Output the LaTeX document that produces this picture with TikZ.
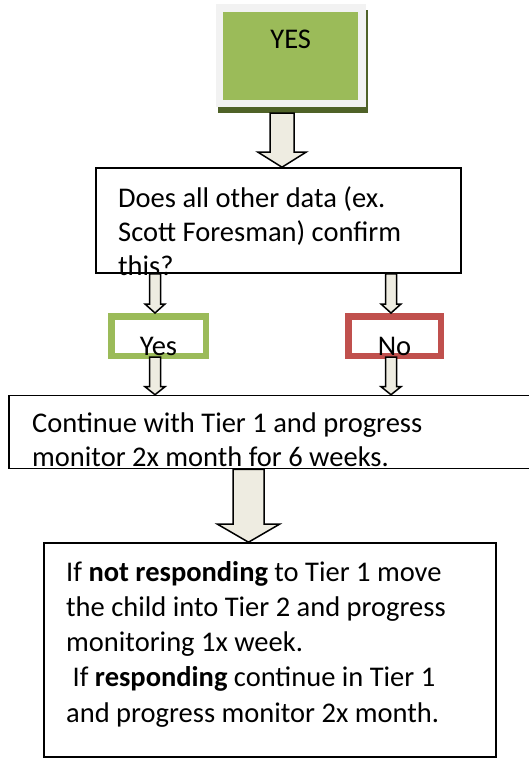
\documentclass[tikz,border=0pt]{standalone}
\usepackage{fontspec}
\setmainfont{Carlito}
\usepackage{xcolor}
\usepackage{tikz}
\usetikzlibrary{calc}
\usetikzlibrary{shadows}

\definecolor{yesgreen}{HTML}{9BBB59}
\definecolor{shadowgreen}{HTML}{4F6228}
\definecolor{framegray}{HTML}{F2F2F2}
\definecolor{nored}{HTML}{C0504D}
\definecolor{arrowbeige}{HTML}{EEECE1}

\tikzset{
	startbox/.style={rectangle, fill=yesgreen, draw=framegray, line width=7.5pt,
		minimum width=142.5pt, minimum height=95.5pt, inner sep=0pt,
		font=\fontsize{28.5}{34}\selectfont, text height=0pt, text depth=15.5pt,
		drop shadow={shadow xshift=2.25pt, shadow yshift=-5.75pt, fill=shadowgreen,
			draw=shadowgreen, line width=7.5pt, opacity=1}},
	answerbox/.style={rectangle, line width=6.5pt, minimum height=39.5pt, inner sep=0pt,
		font=\fontsize{28.5}{34}\selectfont, text height=39pt, text depth=0pt},
	plainbox/.style={rectangle, draw=black, line width=1.6pt, inner sep=0pt},
	boxtext/.style={anchor=base west, align=left, inner sep=0pt},
	arrowbody/.style={draw=black, fill=arrowbeige, line width=1.5pt, line join=miter},
}

% #1 x of the arrow, #2 start, #3 tip, #4 half shaft, #5 half head, #6 head length
\newcommand{\blockarrow}[6]{%
	\draw[arrowbody] let \p1=(#2), \p2=(#3) in
		(#1pt-#4pt,\y1) -- (#1pt+#4pt,\y1) -- (#1pt+#4pt,\y2+#6pt) -- (#1pt+#5pt,\y2+#6pt)
		-- (#1pt,\y2) -- (#1pt-#5pt,\y2+#6pt) -- (#1pt-#4pt,\y2+#6pt) -- cycle;
}

\begin{document}
\begin{tikzpicture}[x=1pt,y=-1pt]
	\useasboundingbox (0,0) rectangle (529,758);
	
	\node[startbox] (yesstart) at (290.75,55.75) {YES};
	
	\node[plainbox, minimum width=365pt, minimum height=105pt] (question) at (278.5,220.5) {};
	\node[boxtext, font=\fontsize{28.5}{34}\selectfont] (questiontext) at (118,275)
		{Does all other data (ex.\\Scott Foresman) confirm\\this?};
	
	\node[answerbox, draw=yesgreen, minimum width=94.5pt] (yesans) at (158.5,336) {Yes};
	\node[answerbox, draw=nored, minimum width=92.5pt] (noans) at (394.5,336) {No};
	
	\node[plainbox, minimum width=531pt, minimum height=73pt] (tierone) at (274.5,432) {};
	\node[boxtext, font=\fontsize{28.5}{33.3}\selectfont] (tieronetext) at (32,466)
		{Continue with Tier 1 and progress\\monitor 2x month for 6 weeks.};
	
	\node[plainbox, minimum width=452pt, minimum height=214pt] (tiertwo) at (270,650) {};
	\node[boxtext, font=\fontsize{28.5}{35.25}\selectfont] (tiertwotext) at (66,722)
		{If \textbf{not responding} to Tier 1 move\\the child into Tier 2 and progress\\monitoring 1x week.\\
		\ If \textbf{responding} continue in Tier 1\\and progress monitor 2x month.};
	
	\blockarrow{282}{[yshift=-5.75pt]yesstart.south}{question.north}{12}{24}{15}
	\blockarrow{155}{question.south}{yesans.north}{5.5}{10}{9}
	\blockarrow{391}{question.south}{noans.north}{5.5}{10}{9}
	\blockarrow{155}{[yshift=2pt]yesans.south}{tierone.north}{5.5}{10}{8}
	\blockarrow{391}{[yshift=2pt]noans.south}{tierone.north}{5.5}{10}{8}
	\blockarrow{248.5}{tierone.south}{tiertwo.north}{15.5}{31}{18}
\end{tikzpicture}
\end{document}
